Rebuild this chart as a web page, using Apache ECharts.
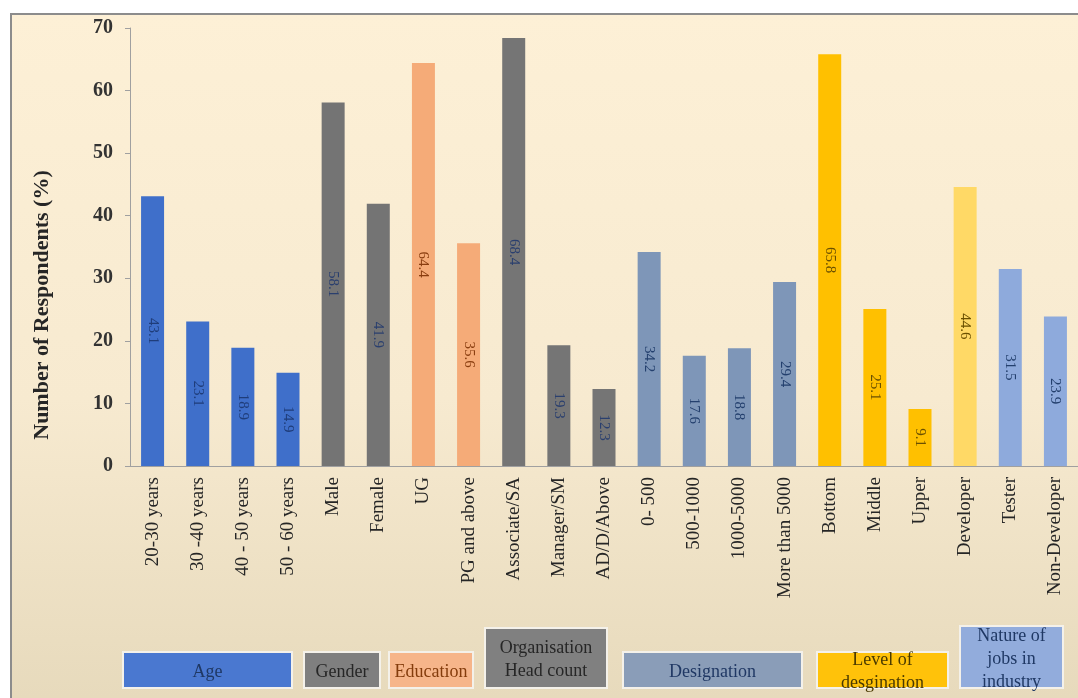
<!DOCTYPE html>
<html>
<head>
    <meta charset="utf-8">
    <title>Respondents profile</title>
    <style>
        html, body, #chart { margin: 0; padding: 0; width: 1078px; height: 698px; background: #fff; }
    </style>
</head>
<body>
    <div id="chart"></div>
    <script src="https://cdn.jsdelivr.net/npm/echarts@6/dist/echarts.min.js"></script>
    <script>
        // categories and their values (%)
        var categories = ['20-30 years', '30 -40 years', '40 - 50 years', '50 - 60 years',
            'Male', 'Female', 'UG', 'PG and above',
            'Associate/SA', 'Manager/SM', 'AD/D/Above',
            '0- 500', '500-1000', '1000-5000', 'More than 5000',
            'Bottom', 'Middle', 'Upper', 'Developer', 'Tester', 'Non-Developer'];
        var values = [43.1, 23.1, 18.9, 14.9, 58.1, 41.9, 64.4, 35.6, 68.4, 19.3, 12.3,
            34.2, 17.6, 18.8, 29.4, 65.8, 25.1, 9.1, 44.6, 31.5, 23.9];
        // colour group of each bar
        var barGroup = [0, 0, 0, 0, 1, 1, 2, 2, 3, 3, 3, 4, 4, 4, 4, 5, 5, 5, 6, 7, 7];
        var barColors = ['#3f6fca', '#747474', '#f5ab78', '#757575', '#7e96b8', '#ffc000', '#ffd966', '#8eaadc'];
        var labelColors = ['#1f3d7a', '#2a3f6e', '#8a3e10', '#2a3f6e', '#24406e', '#6b5000', '#6b5000', '#24406e'];
        var yTicks = [0, 10, 20, 30, 40, 50, 60, 70];
        var yTitle = 'Number of Respondents (%)';

        // legend boxes at the bottom
        var legendNames = ['Age', 'Gender', 'Education', 'Organisation\nHead count', 'Designation', 'Level of\ndesgination', 'Nature of\njobs in\nindustry'];
        var legendFill = ['#4a78d0', '#7f7f7f', '#f6b58a', '#808080', '#8a9db8', '#ffc20a', '#92acdc'];
        var legendText = ['#1f3864', '#262626', '#843c0c', '#262626', '#203864', '#4a3a00', '#1f3864'];
        var legendBox = [[123, 652, 169, 36], [304, 652, 76, 36], [389, 652, 84, 36], [485, 628, 122, 60],
            [623, 652, 179, 36], [817, 652, 131, 36], [960, 626, 103, 62]];

        var chart = echarts.init(document.getElementById('chart'));

        var seriesData = values.map(function (v, i) {
            var g = barGroup[i];
            return {
                value: v,
                itemStyle: { color: barColors[g] },
                label: { color: labelColors[g] }
            };
        });

        var graphics = [{
            type: 'rect',
            z: -10,
            shape: { x: 11, y: 14, width: 1080, height: 700 },
            style: {
                fill: new echarts.graphic.LinearGradient(0, 0, 0, 1, [
                    { offset: 0, color: '#fdf0d6' },
                    { offset: 0.55, color: '#f7ead0' },
                    { offset: 1, color: '#e6d9bb' }
                ]),
                stroke: '#8c8c8c',
                lineWidth: 2
            },
            silent: true
        }, {
            // axis title, placed like the original
            type: 'text',
            x: 42,
            y: 305,
            rotation: Math.PI / 2,
            style: {
                text: yTitle,
                fill: '#262626',
                font: 'bold 22px "Liberation Serif", serif',
                align: 'center',
                verticalAlign: 'middle'
            },
            silent: true
        }];
        legendNames.forEach(function (name, i) {
            var b = legendBox[i];
            graphics.push({
                type: 'rect',
                shape: { x: b[0], y: b[1], width: b[2], height: b[3] },
                style: { fill: legendFill[i], stroke: '#f4f1ea', lineWidth: 2 },
                silent: true
            });
            graphics.push({
                type: 'text',
                x: b[0] + b[2] / 2,
                y: b[1] + b[3] / 2 + 2,
                style: {
                    text: name,
                    fill: legendText[i],
                    font: '18px "Liberation Serif", serif',
                    lineHeight: 23,
                    align: 'center',
                    verticalAlign: 'middle'
                },
                silent: true
            });
        });

        chart.setOption({
            backgroundColor: '#ffffff',
            animation: false,
            grid: { left: 130, right: 0, top: 28, bottom: 232 },
            xAxis: {
                type: 'category',
                data: categories,
                axisLine: { lineStyle: { color: '#a0a0a0', width: 1 } },
                axisTick: { show: false },
                axisLabel: {
                    interval: 0,
                    rotate: 90,
                    margin: 11,
                    color: '#262626',
                    fontSize: 19,
                    fontFamily: '"Liberation Serif", serif'
                }
            },
            yAxis: {
                type: 'value',
                min: yTicks[0],
                max: yTicks[yTicks.length - 1],
                interval: 10,
                splitLine: { show: false },
                axisLine: { show: true, lineStyle: { color: '#a0a0a0', width: 1 } },
                axisTick: { show: true, length: 5, lineStyle: { color: '#a0a0a0' } },
                axisLabel: {
                    margin: 17,
                    color: '#333333',
                    fontSize: 20,
                    fontWeight: 'bold',
                    fontFamily: '"Liberation Serif", serif'
                }
            },
            series: [{
                type: 'bar',
                data: seriesData,
                barWidth: 23,
                label: {
                    show: true,
                    position: 'inside',
                    rotate: -90,
                    fontSize: 15,
                    fontFamily: '"Liberation Serif", serif',
                    formatter: function (p) { return p.value.toFixed(1); }
                }
            }],
            graphic: graphics
        });
    </script>
</body>
</html>
